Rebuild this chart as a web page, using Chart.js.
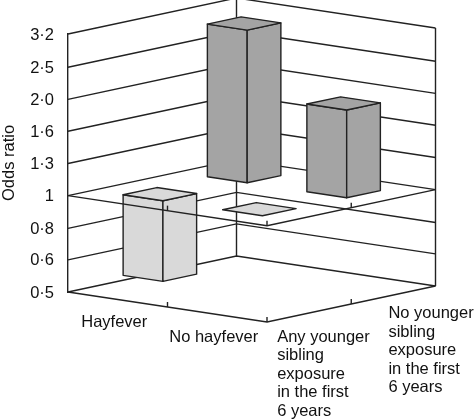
<!DOCTYPE html>
<html>
<head>
<meta charset="utf-8">
<title>Odds ratio</title>
<script src="https://cdn.jsdelivr.net/npm/chart.js@4/dist/chart.umd.js"></script>
<style>
    html, body { margin: 0; padding: 0; background: #fff; }
    canvas { display: block; }
</style>
</head>
<body>
<canvas id="chart" width="475" height="420"></canvas>
<script>
// Values
const hayfeverLabels = ['Hayfever', 'No hayfever'];
const siblingLabels = [
    ['Any younger', 'sibling', 'exposure', 'in the first', '6 years'],
    ['No younger', 'sibling', 'exposure', 'in the first', '6 years']
];
const anySiblingValues = [0.56, 1.0];
const noSiblingValues = [3.0, 1.88];
const yTickValues = [0.5, 0.63, 0.79, 1, 1.26, 1.59, 2, 2.52, 3.2];
const yTickLabels = ['0·5', '0·6', '0·8', '1', '1·3', '1·6', '2·0', '2·5', '3·2'];
const baseValue = 1;

// Oblique projection: x axis runs down to the right, depth runs up to the right
const SHEAR = 0.1508;
const DEPTH_X = 84.25;
const DEPTH_Y = -18;
const BAR_SIZE = 0.4;
const LINE_COLOR = '#222222';
const LINE_WIDTH = 1.4;
const TEXT_COLOR = '#111111';
const FONT_FAMILY = '"Liberation Sans", Arial, sans-serif';
const FONT_SIZE = 16.5;

function oblique(chart, px, py, depth) {
    return {
        x: px + depth * DEPTH_X,
        y: py + (px - chart.chartArea.left) * SHEAR + depth * DEPTH_Y
    };
}

function polyline(ctx, points, fill) {
    ctx.beginPath();
    points.forEach((p, i) => (i ? ctx.lineTo(p.x, p.y) : ctx.moveTo(p.x, p.y)));
    if (fill) {
        ctx.closePath();
        ctx.fillStyle = fill;
        ctx.fill();
    }
    ctx.stroke();
}

// Bars become boxes: geometry comes from the bar elements the library laid out
class Bar3dController extends Chart.BarController {
    draw() {
        const chart = this.chart;
        const ctx = chart.ctx;
        const near = this.index + (1 - BAR_SIZE) / 2;
        const far = near + BAR_SIZE;
        const color = this.getDataset().backgroundColor;

        ctx.save();
        ctx.strokeStyle = LINE_COLOR;
        ctx.lineWidth = LINE_WIDTH;
        ctx.lineJoin = 'round';
        this._cachedMeta.data.forEach(bar => {
            const x0 = bar.x - bar.width / 2;
            const x1 = bar.x + bar.width / 2;
            const top = Math.min(bar.y, bar.base);
            const bottom = Math.max(bar.y, bar.base);
            const p = (px, py, depth) => oblique(chart, px, py, depth);

            if (bottom - top > 0.5) {
                polyline(ctx, [p(x0, top, near), p(x1, top, near), p(x1, bottom, near), p(x0, bottom, near)], color);
                polyline(ctx, [p(x1, top, near), p(x1, top, far), p(x1, bottom, far), p(x1, bottom, near)], color);
            }
            polyline(ctx, [p(x0, top, near), p(x1, top, near), p(x1, top, far), p(x0, top, far)], color);
        });
        ctx.restore();
    }
}
Bar3dController.id = 'bar3d';
Bar3dController.defaults = Chart.BarController.defaults;
Bar3dController.overrides = Chart.BarController.overrides;
Chart.register(Bar3dController);

// Back walls, floor and grid, behind the bars
const wallsPlugin = {
    id: 'walls',
    beforeDatasetsDraw(chart) {
        const { ctx, chartArea: { left, right }, scales: { y } } = chart;
        const depth = siblingLabels.length;
        const minValue = yTickValues[0];
        const maxValue = yTickValues[yTickValues.length - 1];

        ctx.save();
        ctx.strokeStyle = LINE_COLOR;
        ctx.lineWidth = LINE_WIDTH;
        yTickValues.forEach(value => {
            const py = y.getPixelForValue(value);
            polyline(ctx, [oblique(chart, left, py, 0), oblique(chart, left, py, depth), oblique(chart, right, py, depth)]);
        });
        [left, right].forEach(px => {
            polyline(ctx, [
                oblique(chart, px, y.getPixelForValue(minValue), depth),
                oblique(chart, px, y.getPixelForValue(maxValue), depth)
            ]);
        });
        ctx.restore();
    },
    afterDatasetsDraw(chart) {
        const { ctx, chartArea: { left, right }, scales: { x, y } } = chart;
        const depth = siblingLabels.length;
        const levels = [yTickValues[0], baseValue];

        ctx.save();
        ctx.strokeStyle = LINE_COLOR;
        ctx.lineWidth = LINE_WIDTH;
        // Front edges and tick marks, on the floor and on the plane at 1
        levels.forEach(value => {
            const py = y.getPixelForValue(value);
            const front = oblique(chart, right, py, 0);
            polyline(ctx, [oblique(chart, left, py, 0), front, oblique(chart, right, py, depth)]);

            const marks = [
                oblique(chart, (left + right) / 2, py, 0),
                front,
                oblique(chart, right, py, depth / 2)
            ];
            marks.forEach(m => polyline(ctx, [m, { x: m.x, y: m.y - 5 }]));
        });

        // Category labels below the floor
        const floor = y.getPixelForValue(yTickValues[0]);
        ctx.font = FONT_SIZE + 'px ' + FONT_FAMILY;
        ctx.fillStyle = TEXT_COLOR;
        ctx.textAlign = 'center';
        ctx.textBaseline = 'alphabetic';
        hayfeverLabels.forEach((label, i) => {
            const p = oblique(chart, x.getPixelForValue(i), floor, 0);
            ctx.fillText(label, p.x - 3.5, p.y + 27);
        });

        ctx.textAlign = 'left';
        const siblingOffsets = [{ dx: -32, dy: 28.5 }, { dx: -5, dy: 23 }];
        siblingLabels.forEach((lines, i) => {
            const p = oblique(chart, right, floor, i + 0.5);
            lines.forEach((line, n) => {
                ctx.fillText(line, p.x + siblingOffsets[i].dx, p.y + siblingOffsets[i].dy + n * 18.6);
            });
        });
        ctx.restore();
    }
};

function initChart() {
    const ctx = document.getElementById('chart').getContext('2d');

    return new Chart(ctx, {
        type: 'bar3d',
        data: {
            labels: hayfeverLabels,
            datasets: [
                { label: siblingLabels[0].join(' '), data: anySiblingValues, backgroundColor: '#d9d9d9' },
                { label: siblingLabels[1].join(' '), data: noSiblingValues, backgroundColor: '#a4a4a4' }
            ]
        },
        options: {
            responsive: false,
            animation: false,
            base: baseValue,
            grouped: false,
            categoryPercentage: BAR_SIZE,
            barPercentage: 1,
            clip: false,
            layout: { padding: { top: 34, right: 208, bottom: 128, left: 0 } },
            plugins: { legend: { display: false }, tooltip: { enabled: false } },
            scales: {
                x: {
                    type: 'category',
                    offset: true,
                    display: false
                },
                y: {
                    type: 'logarithmic',
                    beginAtZero: false,
                    min: yTickValues[0],
                    max: yTickValues[yTickValues.length - 1],
                    afterBuildTicks: scale => {
                        scale.ticks = yTickValues.map(value => ({ value }));
                    },
                    afterFit: scale => {
                        scale.width = 68;
                    },
                    grid: { display: false, drawTicks: false },
                    border: { display: true, color: LINE_COLOR, width: LINE_WIDTH },
                    ticks: {
                        autoSkip: false,
                        padding: 14,
                        labelOffset: 1,
                        color: TEXT_COLOR,
                        font: { family: FONT_FAMILY, size: FONT_SIZE },
                        callback: (value, index) => yTickLabels[index]
                    },
                    title: {
                        display: true,
                        text: 'Odds ratio',
                        color: TEXT_COLOR,
                        padding: 0,
                        font: { family: FONT_FAMILY, size: FONT_SIZE }
                    }
                }
            }
        },
        plugins: [wallsPlugin]
    });
}

initChart();
</script>
</body>
</html>
